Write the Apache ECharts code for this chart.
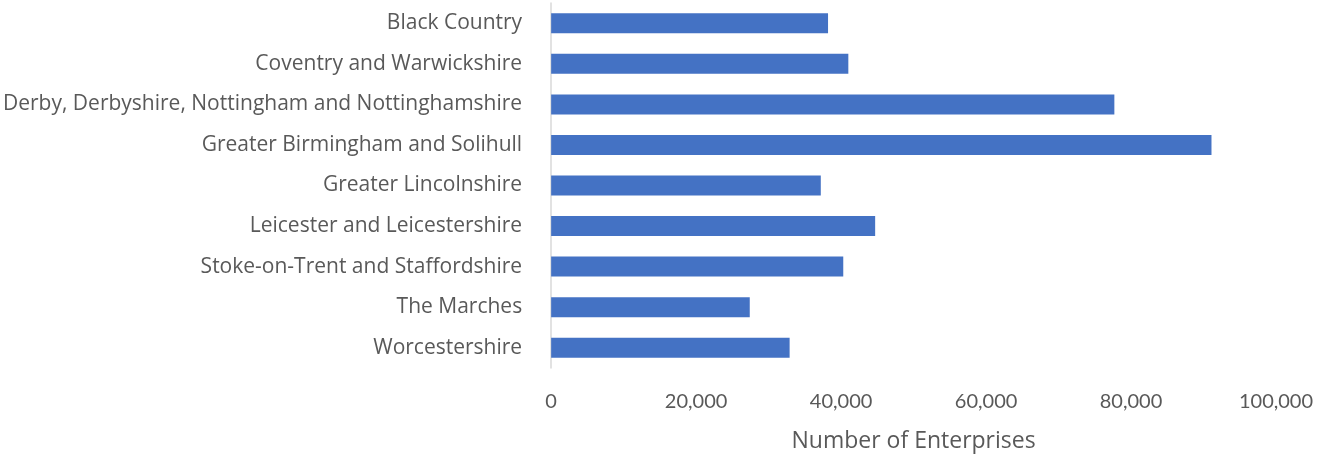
<!DOCTYPE html>
<html>
<head>
<meta charset="utf-8">
<script src="https://cdn.jsdelivr.net/npm/echarts@6/dist/echarts.min.js"></script>
<style>
  html, body { margin: 0; padding: 0; background: #ffffff; }
  #chart { width: 1318px; height: 458px; }
</style>
</head>
<body>
<div id="chart"></div>
<script>
const regions = [
  'Black Country',
  'Coventry and Warwickshire',
  'Derby, Derbyshire, Nottingham and Nottinghamshire',
  'Greater Birmingham and Solihull',
  'Greater Lincolnshire',
  'Leicester and Leicestershire',
  'Stoke-on-Trent and Staffordshire',
  'The Marches',
  'Worcestershire'
];
const enterprises = [38200, 41000, 77700, 91100, 37200, 44700, 40300, 27400, 32900];
const xTicks = [0, 20000, 40000, 60000, 80000, 100000];

const myChart = echarts.init(document.getElementById('chart'));

const textFont = '"Open Sans", sans-serif';
const tickFont = 'Lato, sans-serif';

const option = {
  animation: false,
  grid: {
    left: 549,
    right: 42,
    top: 3,
    bottom: 90,
    containLabel: false
  },
  xAxis: {
    type: 'value',
    min: xTicks[0],
    max: xTicks[xTicks.length - 1],
    interval: xTicks[1] - xTicks[0],
    name: 'Number of Enterprises',
    nameLocation: 'middle',
    nameGap: 62,
    nameTextStyle: { color: '#595959', fontSize: 23, fontFamily: textFont },
    axisLine: { show: false },
    axisTick: { show: false },
    splitLine: { show: false },
    axisLabel: {
      color: '#595959',
      fontSize: 20,
      fontFamily: tickFont,
      margin: 24,
      formatter: (v) => v.toLocaleString('en-US')
    }
  },
  yAxis: {
    type: 'category',
    data: regions,
    inverse: true,
    axisLine: { show: true, lineStyle: { color: '#d9d9d9', width: 1.5 } },
    axisTick: { show: false },
    axisLabel: {
      color: '#595959',
      fontSize: 21,
      fontFamily: textFont,
      margin: 29,
      padding: [5, 0, 0, 0]
    }
  },
  series: [
    {
      name: 'Number of Enterprises',
      type: 'bar',
      data: enterprises,
      barWidth: 20,
      itemStyle: { color: '#4472c4' }
    }
  ]
};

myChart.setOption(option);
</script>
</body>
</html>
